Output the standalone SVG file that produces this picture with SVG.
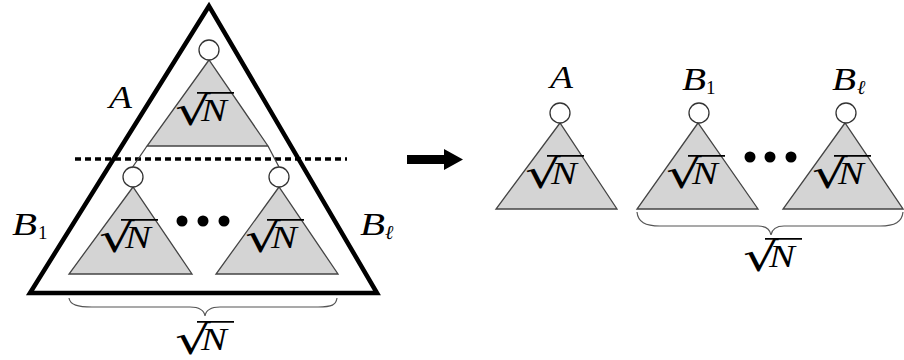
<svg xmlns="http://www.w3.org/2000/svg" xmlns:xlink="http://www.w3.org/1999/xlink" width="904" height="360" viewBox="0 0 904 360">
<style>
.tri{fill:#d4d4d4;stroke:#444;stroke-width:1.3;stroke-linejoin:miter}
.root{fill:#fff;stroke:#333;stroke-width:1.3}
.edge{stroke:#444;stroke-width:1.3;fill:none}
.lbl{font-family:"Liberation Serif","DejaVu Serif",serif;font-style:italic;font-size:31px;fill:#000}
.sub{font-family:"Liberation Serif","DejaVu Serif",serif;font-size:19px;font-style:normal;fill:#000}
.subl{font-family:"Liberation Serif","DejaVu Serif",serif;font-size:20px;font-style:italic;fill:#000}
.rad{font-family:"DejaVu Serif",serif;font-size:40px;fill:#000}
.nn{font-family:"Liberation Serif","DejaVu Serif",serif;font-style:italic;font-size:31px;fill:#000}
.bar{stroke:#000;stroke-width:1.7}
.brace{fill:none;stroke:#555;stroke-width:1.2}
.dot{fill:#000}
</style>
<defs>
<g id="sqrtN">
<text class="rad" transform="translate(0,33) scale(1.4,1)" x="0" y="0">√</text>
<text class="nn" transform="translate(26,29) scale(1.25,1)" x="0" y="0">N</text>
<line class="bar" x1="22" y1="0.8" x2="59" y2="0.8"/>
</g>
</defs>
<g id="big-tree">
<polygon points="209,6 30,293 377,293" fill="none" stroke="#000" stroke-width="4.5" stroke-linejoin="miter"/>
</g>
<g id="cut-line">
<line x1="75" y1="159" x2="347" y2="159" stroke="#000" stroke-width="3.5" stroke-dasharray="6,4"/>
</g>
<g id="left-A">
<polygon class="tri" points="209,60 147,146 268,146"/>
<circle class="root" cx="209" cy="50" r="10"/>
<use xlink:href="#sqrtN" x="175" y="92"/>
<text class="lbl" x="109" y="108" textLength="23" lengthAdjust="spacingAndGlyphs">A</text>
</g>
<g id="left-B1">
<polygon class="tri" points="133,187 69,274 192,274"/>
<circle class="root" cx="133" cy="177" r="10"/>
<use xlink:href="#sqrtN" x="99" y="219"/>
<text class="lbl" x="12" y="235" textLength="25" lengthAdjust="spacingAndGlyphs">B</text>
<text class="sub" x="38" y="239">1</text>
</g>
<g id="left-Bl">
<polygon class="tri" points="279,187 216,274 338,274"/>
<circle class="root" cx="279" cy="177" r="10"/>
<use xlink:href="#sqrtN" x="245" y="219"/>
<text class="lbl" x="360" y="235" textLength="25" lengthAdjust="spacingAndGlyphs">B</text>
<text class="subl" x="385" y="239">ℓ</text>
</g>
<g id="left-dots">
<circle class="dot" cx="182" cy="221" r="5.5"/>
<circle class="dot" cx="203" cy="221" r="5.5"/>
<circle class="dot" cx="224" cy="221" r="5.5"/>
</g>
<g id="left-brace">
<path class="brace" d="M69,298 C70,305 78,307 92,307 L190,307 C199,307 204,310 205,316 C206,310 211,307 220,307 L318,307 C332,307 336,305 337,298"/>
<use xlink:href="#sqrtN" x="175" y="321"/>
</g>
<g id="connectors">
<line class="edge" x1="147" y1="146" x2="132" y2="168"/>
<line class="edge" x1="268" y1="146" x2="279" y2="167"/>
<polygon points="407,155 444,155 444,149 463,159.5 444,170 444,164 407,164" fill="#000"/>
</g>
<g id="right-A">
<polygon class="tri" points="560,123 496,209 617,209"/>
<circle class="root" cx="560" cy="113" r="10"/>
<use xlink:href="#sqrtN" x="525" y="155"/>
<text class="lbl" x="550" y="88" textLength="23" lengthAdjust="spacingAndGlyphs">A</text>
</g>
<g id="right-B1">
<polygon class="tri" points="698,123 637,209 758,209"/>
<circle class="root" cx="699" cy="113" r="10"/>
<use xlink:href="#sqrtN" x="666" y="155"/>
<text class="lbl" x="682" y="90" textLength="24" lengthAdjust="spacingAndGlyphs">B</text>
<text class="sub" x="706" y="94">1</text>
</g>
<g id="right-Bl">
<polygon class="tri" points="845,123 783,209 903,209"/>
<circle class="root" cx="846" cy="113" r="10"/>
<use xlink:href="#sqrtN" x="812" y="155"/>
<text class="lbl" x="832" y="90" textLength="24" lengthAdjust="spacingAndGlyphs">B</text>
<text class="subl" x="857" y="94">ℓ</text>
</g>
<g id="right-dots">
<circle class="dot" cx="750" cy="157" r="5.5"/>
<circle class="dot" cx="770" cy="157" r="5.5"/>
<circle class="dot" cx="791" cy="157" r="5.5"/>
</g>
<g id="right-brace">
<path class="brace" d="M637,212 C638,222 645,226 660,226 L758,226 C766,226 770,229 771,235 C772,229 776,226 784,226 L880,226 C895,226 902,222 903,212"/>
<use xlink:href="#sqrtN" x="743" y="238"/>
</g>
</svg>
